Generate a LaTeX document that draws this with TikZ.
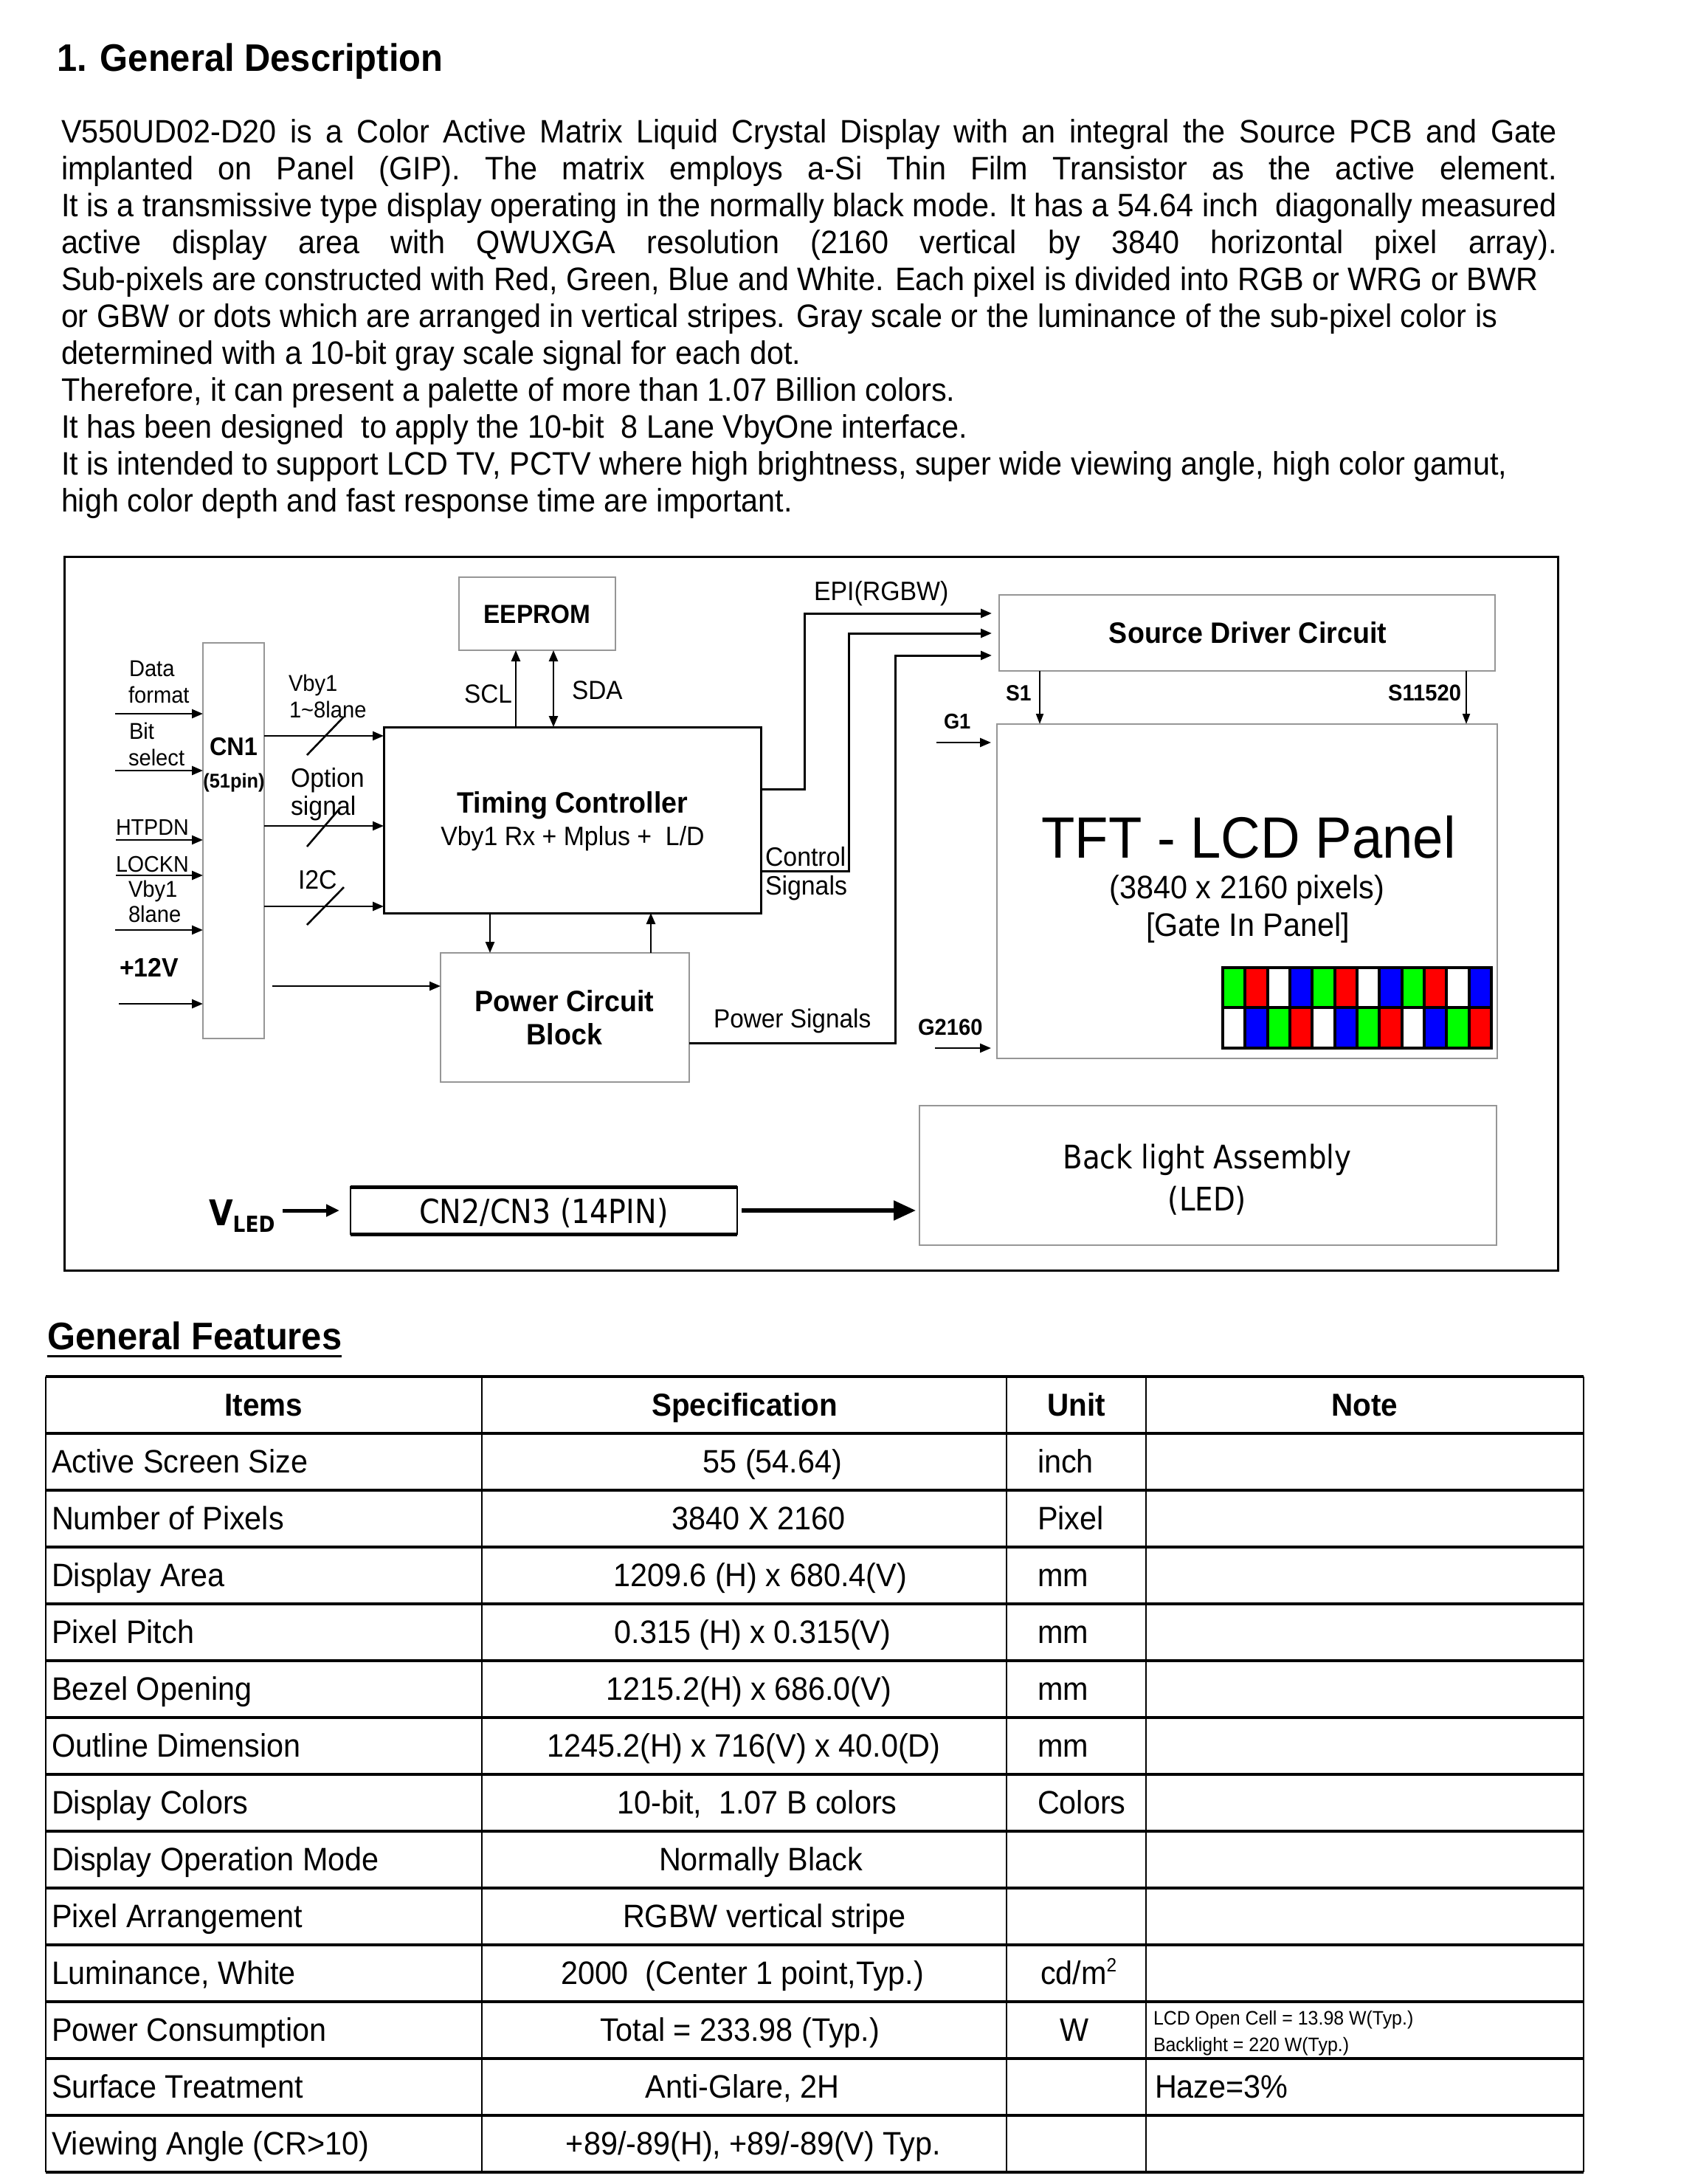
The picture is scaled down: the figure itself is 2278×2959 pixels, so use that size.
\documentclass[tikz,border=0pt]{standalone}
\usepackage{fontspec}
\setmainfont[FakeStretch=0.94]{Liberation Sans}
\newfontfamily\dvfont[FakeStretch=0.88]{DejaVu Sans}
\usetikzlibrary{arrows.meta}
\definecolor{pxg}{RGB}{0,255,0}
\definecolor{pxr}{RGB}{255,0,0}
\definecolor{pxb}{RGB}{0,0,255}
\definecolor{pxw}{RGB}{255,255,255}
\definecolor{boxgray}{RGB}{150,150,150}
\newcommand{\myfs}[1]{\fontsize{#1pt}{#1pt}\selectfont}
\newcommand{\tabrow}[4]{%
  \node[t,anchor=base west,font=\myfs{44}] (it#1) at (70,{1918.5+77*#1}) {#2};
  \node[t,anchor=base,font=\myfs{44}] (sp#1) at (#4,{1918.5+77*#1}) {#3};}
\newcommand{\tabunit}[3]{%
  \node[t,anchor=base west,font=\myfs{44}] (un#1) at (#3,{1918.5+77*#1}) {#2};}
\begin{document}
\begin{tikzpicture}[x=1pt,y=-1pt,
  t/.style={inner sep=0pt,outer sep=0pt},
  gbox/.style={draw=boxgray,line width=1.6pt,inner sep=0pt,outer sep=0pt},
  bbox/.style={draw=black,line width=3pt,inner sep=0pt,outer sep=0pt},
  arr/.style={line width=2.6pt,-{Triangle[length=15pt,width=12pt]}},
  sarr/.style={line width=2pt,-{Triangle[length=14pt,width=10pt]}},
  darr/.style={line width=2.6pt,{Triangle[length=15pt,width=12pt]}-{Triangle[length=15pt,width=12pt]}},
  wire/.style={line width=3pt},
  slash/.style={line width=2.6pt},
  lbl/.style={t,anchor=base west},
  lblc/.style={t,anchor=base},
  tline/.style={line width=3.5pt},
  vline/.style={line width=2.2pt}]
\fill[white] (0,0) rectangle (2278,2959);
\useasboundingbox (0,0) rectangle (2278,2959);

% ---------- Title and description ----------
\node[lbl,font=\bfseries\myfs{52}] (title) at (77,96) {1. General Description};
\node[lbl,font=\myfs{44}] (l1) at (83,193) {\makebox[2027pt][s]{V550UD02-D20 is a Color Active Matrix Liquid Crystal Display with an integral the Source PCB and Gate}};
\node[lbl,font=\myfs{44}] (l2) at (83,243) {\makebox[2027pt][s]{implanted on Panel (GIP). The matrix employs a-Si Thin Film Transistor as the active element.}};
\node[lbl,font=\myfs{44}] (l3) at (83,293) {\makebox[2027pt][s]{It is a transmissive type display operating in the normally black mode. It has a 54.64 inch\ \ diagonally measured}};
\node[lbl,font=\myfs{44}] (l4) at (83,343) {\makebox[2027pt][s]{active display area with QWUXGA resolution (2160 vertical by 3840 horizontal pixel array).}};
\node[lbl,font=\myfs{44}] (l5) at (83,393) {Sub-pixels are constructed with Red, Green, Blue and White. Each pixel is divided into RGB or WRG or BWR};
\node[lbl,font=\myfs{44}] (l6) at (83,443) {or GBW or dots which are arranged in vertical stripes. Gray scale or the luminance of the sub-pixel color is};
\node[lbl,font=\myfs{44}] (l7) at (83,493) {determined with a 10-bit gray scale signal for each dot.};
\node[lbl,font=\myfs{44}] (l8) at (83,543) {Therefore, it can present a palette of more than 1.07 Billion colors.};
\node[lbl,font=\myfs{44}] (l9) at (83,593) {It has been designed\ \ to apply the 10-bit\ \ 8 Lane VbyOne interface.};
\node[lbl,font=\myfs{44}] (l10) at (83,643) {It is intended to support LCD TV, PCTV where high brightness, super wide viewing angle, high color gamut,};
\node[lbl,font=\myfs{44}] (l11) at (83,693) {high color depth and fast response time are important.};

% ---------- Block diagram ----------
\node[t,draw,line width=3pt,minimum width=2024pt,minimum height=967pt] (frame) at (1099,1237.5) {};

\node[gbox,minimum width=83pt,minimum height=536pt] (cn1) at (316.5,1139) {};
\node[gbox,minimum width=212pt,minimum height=99pt] (eeprom) at (728,831.5) {};
\node[bbox,minimum width=511pt,minimum height=252pt] (tc) at (775.5,1111) {};
\node[gbox,minimum width=337pt,minimum height=175pt] (pcb) at (765.5,1378.5) {};
\node[gbox,minimum width=672pt,minimum height=103pt] (sdc) at (1690,857.5) {};
\node[gbox,minimum width=678pt,minimum height=453pt] (panel) at (1690,1207.5) {};
\node[gbox,minimum width=782pt,minimum height=189pt] (bl) at (1637,1592.5) {};
\node[t,draw,line width=2.2pt,minimum width=524pt,minimum height=64pt] (cn23) at (737,1640) {};
\draw[line width=5pt] (cn23.north west) -- (cn23.north east);
\draw[line width=5pt] (cn23.south west) -- (cn23.south east);

% texts in boxes
\node[lblc,font=\bfseries\myfs{35.5}] (eepromt) at (728,844) {EEPROM};
\node[lblc,font=\bfseries\myfs{40}] (tct1) at (776,1101) {Timing Controller};
\node[lblc,font=\myfs{36}] (tct2) at (776,1145) {Vby1 Rx + Mplus +\ \ L/D};
\node[lblc,font=\bfseries\myfs{34.5}] (cn1t1) at (316.5,1023) {CN1};
\node[lblc,font=\bfseries\myfs{27}] (cn1t2) at (317,1067) {(51pin)};
\node[lblc,font=\bfseries\myfs{40}] (pcbt1) at (765,1370) {Power Circuit};
\node[lblc,font=\bfseries\myfs{40}] (pcbt2) at (765,1415) {Block};
\node[lblc,font=\bfseries\myfs{40}] (sdct) at (1691,871) {Source Driver Circuit};
\node[lblc,font=\myfs{79}] (pant1) at (1692,1162) {TFT - LCD Panel};
\node[lblc,font=\myfs{44}] (pant2) at (1690,1217) {(3840 x 2160 pixels)};
\node[lblc,font=\myfs{44}] (pant3) at (1691,1268) {[Gate In Panel]};
\node[lblc,font=\dvfont\myfs{44}] (blt1) at (1636,1583) {Back light Assembly};
\node[lblc,font=\dvfont\myfs{44}] (blt2) at (1636,1640) {(LED)};
\node[lblc,font=\dvfont\myfs{45}] (cn23t) at (737,1657) {CN2/CN3 (14PIN)};

% pixel grid
\foreach \c [count=\i from 0] in {pxg,pxr,pxw,pxb,pxg,pxr,pxw,pxb,pxg,pxr,pxw,pxb}
  \fill[\c] ({1657+364/12*\i},1311) rectangle ({1657+364/12*(\i+1)},1365);
\foreach \c [count=\i from 0] in {pxw,pxb,pxg,pxr,pxw,pxb,pxg,pxr,pxw,pxb,pxg,pxr}
  \fill[\c] ({1657+364/12*\i},1365) rectangle ({1657+364/12*(\i+1)},1420);
\foreach \i in {1,...,11}
  \draw[line width=4pt] ({1657+364/12*\i},1311) -- ({1657+364/12*\i},1420);
\draw[line width=4pt] (1657,1365) -- (2021,1365);
\draw[line width=4pt] (1657,1311) rectangle (2021,1420);

% left inputs to CN1
\coordinate (in1) at (156,967);
\coordinate (in2) at (156,1044);
\coordinate (in3) at (157,1138);
\coordinate (in4) at (157,1186);
\coordinate (in5) at (156,1260);
\coordinate (in6) at (161,1360);
\foreach \n in {in1,in2,in3,in4,in5,in6}
  \draw[arr] (\n) -- (\n -| cn1.west);
\node[lbl,font=\myfs{31}] (tdata) at (175,916) {Data};
\node[lbl,font=\myfs{31}] (tformat) at (174,952) {format};
\node[lbl,font=\myfs{31}] (tbit) at (175,1001) {Bit};
\node[lbl,font=\myfs{31}] (tselect) at (174,1037) {select};
\node[lbl,font=\myfs{30.5}] (thtpdn) at (157,1131) {HTPDN};
\node[lbl,font=\myfs{30.5}] (tlockn) at (157,1181) {LOCKN};
\node[lbl,font=\myfs{31}] (tvby) at (174,1215) {Vby1};
\node[lbl,font=\myfs{31}] (t8lane) at (174,1249) {8lane};
\node[lbl,font=\bfseries\myfs{36}] (t12v) at (162,1323) {+12V};

% CN1 to timing controller
\coordinate (r1) at (0,997);
\coordinate (r2) at (0,1119);
\coordinate (r3) at (0,1228);
\foreach \n in {r1,r2,r3}
  \draw[arr] (cn1.east |- \n) -- (tc.west |- \n);
\coordinate (sl1a) at (416,1023); \coordinate (sl1b) at (466,971);
\coordinate (sl2a) at (416,1147); \coordinate (sl2b) at (459,1097);
\coordinate (sl3a) at (416,1253); \coordinate (sl3b) at (466,1202);
\draw[slash] (sl1a) -- (sl1b);
\draw[slash] (sl2a) -- (sl2b);
\draw[slash] (sl3a) -- (sl3b);
\node[lbl,font=\myfs{31}] (tvby2) at (391,936) {Vby1};
\node[lbl,font=\myfs{31}] (t18lane) at (392,972) {1\textasciitilde8lane};
\node[lbl,font=\myfs{36}] (toption) at (394,1066) {Option};
\node[lbl,font=\myfs{36}] (tsignal) at (394,1104) {signal};
\node[lbl,font=\myfs{36}] (ti2c) at (404,1204) {I2C};

% CN1 to power
\coordinate (pw0) at (369,1336);
\draw[arr] (pw0) -- (pw0 -| pcb.west);

% EEPROM
\coordinate (sclx) at (699,0);
\coordinate (sdax) at (750,0);
\draw[arr] (tc.north -| sclx) -- (eeprom.south -| sclx);
\draw[darr] (tc.north -| sdax) -- (eeprom.south -| sdax);
\node[t,anchor=base east,font=\myfs{35.5}] (tscl) at (694,952) {SCL};
\node[lbl,font=\myfs{35.5}] (tsda) at (775,947) {SDA};

% TC <-> power
\coordinate (dnx) at (664,0);
\coordinate (upx) at (882,0);
\draw[arr] (tc.south -| dnx) -- (pcb.north -| dnx);
\draw[arr] (pcb.north -| upx) -- (tc.south -| upx);

% signals to source driver
\coordinate (epi1) at (1090,1069); \coordinate (epi2) at (1090,831);
\coordinate (ctl1) at (1150,1180); \coordinate (ctl2) at (1150,858);
\coordinate (pws1) at (1213,1413); \coordinate (pws2) at (1213,888);
\draw[wire,-{Triangle[length=15pt,width=12pt]},shorten >=10pt] (tc.east |- epi1) -- (epi1) -- (epi2) -- (epi2 -| sdc.west);
\draw[wire,-{Triangle[length=15pt,width=12pt]},shorten >=10pt] (tc.east |- ctl1) -- (ctl1) -- (ctl2) -- (ctl2 -| sdc.west);
\draw[wire,-{Triangle[length=15pt,width=12pt]},shorten >=10pt] (pcb.east |- pws1) -- (pws1) -- (pws2) -- (pws2 -| sdc.west);
\node[lbl,font=\myfs{36}] (tepi) at (1103,813) {EPI(RGBW)};
\node[lbl,font=\myfs{36}] (tctl1) at (1037,1173) {Control};
\node[lbl,font=\myfs{36}] (tctl2) at (1037,1212) {Signals};
\node[lbl,font=\myfs{35.5}] (tpws) at (967,1392) {Power Signals};

% source driver to panel
\coordinate (s1x) at (1409,0);
\coordinate (snx) at (1987,0);
\draw[sarr] (sdc.south -| s1x) -- (panel.north -| s1x);
\draw[sarr] (sdc.south -| snx) -- (panel.north -| snx);
\node[lbl,font=\bfseries\myfs{30}] (ts1) at (1363,949) {S1};
\node[t,anchor=base east,font=\bfseries\myfs{31}] (tsn) at (1980,949) {S11520};

% gate inputs
\coordinate (g1) at (1269,1006);
\coordinate (g2) at (1267,1420);
\draw[arr,shorten >=8pt] (g1) -- (g1 -| panel.west);
\draw[arr,shorten >=8pt] (g2) -- (g2 -| panel.west);
\node[lbl,font=\bfseries\myfs{29}] (tg1) at (1279,987) {G1};
\node[lbl,font=\bfseries\myfs{31}] (tg2) at (1244,1402) {G2160};

% LED path
\node[lbl,font=\dvfont\bfseries\myfs{48}] (vled) at (283,1660) {V};
\node[t,anchor=base west,font=\dvfont\bfseries\myfs{30}] (vledsub) at ([yshift=-9pt]vled.base east) {LED};
\coordinate (vl0) at (383,1640);
\draw[line width=5pt,-{Triangle[length=18pt,width=16pt]},shorten >=15pt] (vl0) -- (vl0 -| cn23.west);
\draw[line width=5.5pt,-{Triangle[length=30pt,width=26pt]},shorten <=6pt,shorten >=5pt] (cn23.east) -- (cn23.east -| bl.west);

% ---------- General Features table ----------
\node[lbl,font=\bfseries\myfs{52}] (gf) at (64,1828) {General Features};
\draw[line width=3pt] ([yshift=-9pt]gf.base west) -- ([yshift=-9pt]gf.base east);

\foreach \k in {0,...,14}
  \draw[tline] (62,{1865+77*\k}) -- (2146,{1865+77*\k});
\foreach \xx in {62,653,1364,1553,2146}
  \draw[vline] (\xx,1865) -- (\xx,2943);

\node[lblc,font=\bfseries\myfs{43}] (hitems) at (357.5,1918.5) {Items};
\node[lblc,font=\bfseries\myfs{43}] (hspec) at (1009,1918.5) {Specification};
\node[lblc,font=\bfseries\myfs{43}] (hunit) at (1458.5,1918.5) {Unit};
\node[lblc,font=\bfseries\myfs{43}] (hnote) at (1849.5,1918.5) {Note};

\tabrow{1}{Active Screen Size}{55 (54.64)}{1047}
\tabrow{2}{Number of Pixels}{3840 X 2160}{1028}
\tabrow{3}{Display Area}{1209.6 (H) x 680.4(V)}{1030}
\tabrow{4}{Pixel Pitch}{0.315 (H) x 0.315(V)}{1020}
\tabrow{5}{Bezel Opening}{1215.2(H) x 686.0(V)}{1015}
\tabrow{6}{Outline Dimension}{1245.2(H) x 716(V) x 40.0(D)}{1008}
\tabrow{7}{Display Colors}{10-bit,\ \ 1.07 B colors}{1026}
\tabrow{8}{Display Operation Mode}{Normally Black}{1031}
\tabrow{9}{Pixel Arrangement}{RGBW vertical stripe}{1036}
\tabrow{10}{Luminance, White}{2000\ \ (Center 1 point,Typ.)}{1006}
\tabrow{11}{Power Consumption}{Total = 233.98 (Typ.)}{1003}
\tabrow{12}{Surface Treatment}{Anti-Glare, 2H}{1006}
\tabrow{13}{Viewing Angle (CR>10)}{+89/-89(H), +89/-89(V) Typ.}{1021}

\tabunit{1}{inch}{1406}
\tabunit{2}{Pixel}{1406}
\tabunit{3}{mm}{1406}
\tabunit{4}{mm}{1406}
\tabunit{5}{mm}{1406}
\tabunit{6}{mm}{1406}
\tabunit{7}{Colors}{1406}
\tabunit{10}{cd/m\raisebox{17pt}{\myfs{26}2}}{1410}
\node[lblc,font=\myfs{44}] (un11) at (1456,{1918.5+77*11}) {W};

\node[lbl,font=\myfs{26.5}] (note1) at (1563,2743) {LCD Open Cell = 13.98 W(Typ.)};
\node[lbl,font=\myfs{26.5}] (note2) at (1563,2779) {Backlight = 220 W(Typ.)};
\node[lbl,font=\myfs{44}] (note3) at (1565,{1918.5+77*12}) {Haze=3\%};
\end{tikzpicture}
\end{document}
